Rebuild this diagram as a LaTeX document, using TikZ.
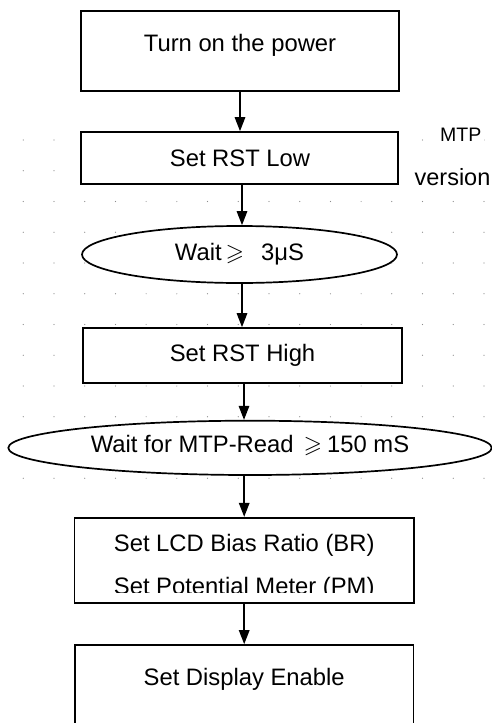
\documentclass[tikz,border=0pt]{standalone}
\usepackage{amssymb}
\usepackage{fontspec}
\setmainfont{Liberation Sans}
\usetikzlibrary{shapes.geometric,arrows.meta,calc}
\begin{document}
\begin{tikzpicture}[x=1pt,y=-1pt,
  box/.style={draw=black, line width=1.7pt, fill=white, rectangle, inner sep=0pt},
  oval/.style={draw=black, line width=1.7pt, fill=white, ellipse, inner sep=0pt},
  lbl/.style={font=\fontsize{23.8}{28}\selectfont, inner sep=0pt, anchor=base},
  side/.style={font=\fontsize{23.5}{28}\selectfont, inner sep=3pt, anchor=base, fill=white},
  arr/.style={line width=1.5pt, -{Triangle[length=14pt,width=10.5pt]}},
  gdot/.style={fill=black!45}]
\useasboundingbox (0,0) rectangle (492,723);
\clip (0,0) rectangle (492,723);
% dotted grid
\foreach \i in {0,...,15}{
  \foreach \j in {0,...,11}{
    \fill[gdot] (23.3+30.71*\i, 140+30.75*\j) circle[radius=0.6pt];
  }
}
% shapes
\node[box, minimum width=318pt, minimum height=80pt] (b1) at (240,51) {};
\node[box, minimum width=317pt, minimum height=52pt] (b2) at (239.5,158) {};
\node[oval, minimum width=315pt, minimum height=57pt] (e1) at (239.5,254.5) {};
\node[box, minimum width=319pt, minimum height=55pt] (b3) at (242.5,355.5) {};
\node[oval, minimum width=483.4pt, minimum height=54.3pt] (e2) at (250,447.85) {};
\node[box, minimum width=339.7pt, minimum height=85.6pt] (b4) at (244.2,560.5) {};
\node[box, minimum width=338.3pt, minimum height=85pt] (b5) at (244.2,687.5) {};
% texts
\node[lbl] (t1) at (240,51.7) {Turn on the power};
\node[lbl] (t2) at (240,166.7) {Set RST Low};
\node[lbl] (t3) at (239.5,260) {Wait\hspace{4pt}$\geqslant$\hspace{17pt}3μS};
\node[lbl] (t4) at (242.5,361) {Set RST High};
\node[lbl] (t5) at (250,452.3) {Wait for MTP-Read\hspace{10pt}$\geqslant$\hspace{5pt}150 mS};
\node[lbl] (t6) at (244.2,551.7) {Set LCD Bias Ratio (BR)};
\begin{scope}
  \clip (74,565) rectangle (415,592.8);
  \node[lbl] (t7) at (244.2,594.5) {Set Potential Meter (PM)};
\end{scope}
\node[lbl] (t8) at (244.2,685.7) {Set Display Enable};
\node[side, font=\fontsize{19.5}{22}\selectfont] (m1) at (460.8,141.7) {MTP};
\node[side] (m2) at (452.5,185) {version};
% connectors
\draw[arr] (b1.south) -- (b1.south |- b2.north);
\coordinate (a2) at ($(b2.south)+(2.5,0)$);
\draw[arr] (a2) -- (a2 |- e1.north);
\coordinate (a3) at ($(e1.south)+(2.5,0)$);
\draw[arr] (a3) -- (a3 |- b3.north);
\coordinate (a4) at ($(b3.south)+(1.5,0)$);
\draw[arr] (a4) -- (a4 |- e2.north);
\draw[arr] (e2.south -| b4.north) -- (b4.north);
\draw[arr] (b4.south) -- (b4.south |- b5.north);
\end{tikzpicture}
\end{document}
